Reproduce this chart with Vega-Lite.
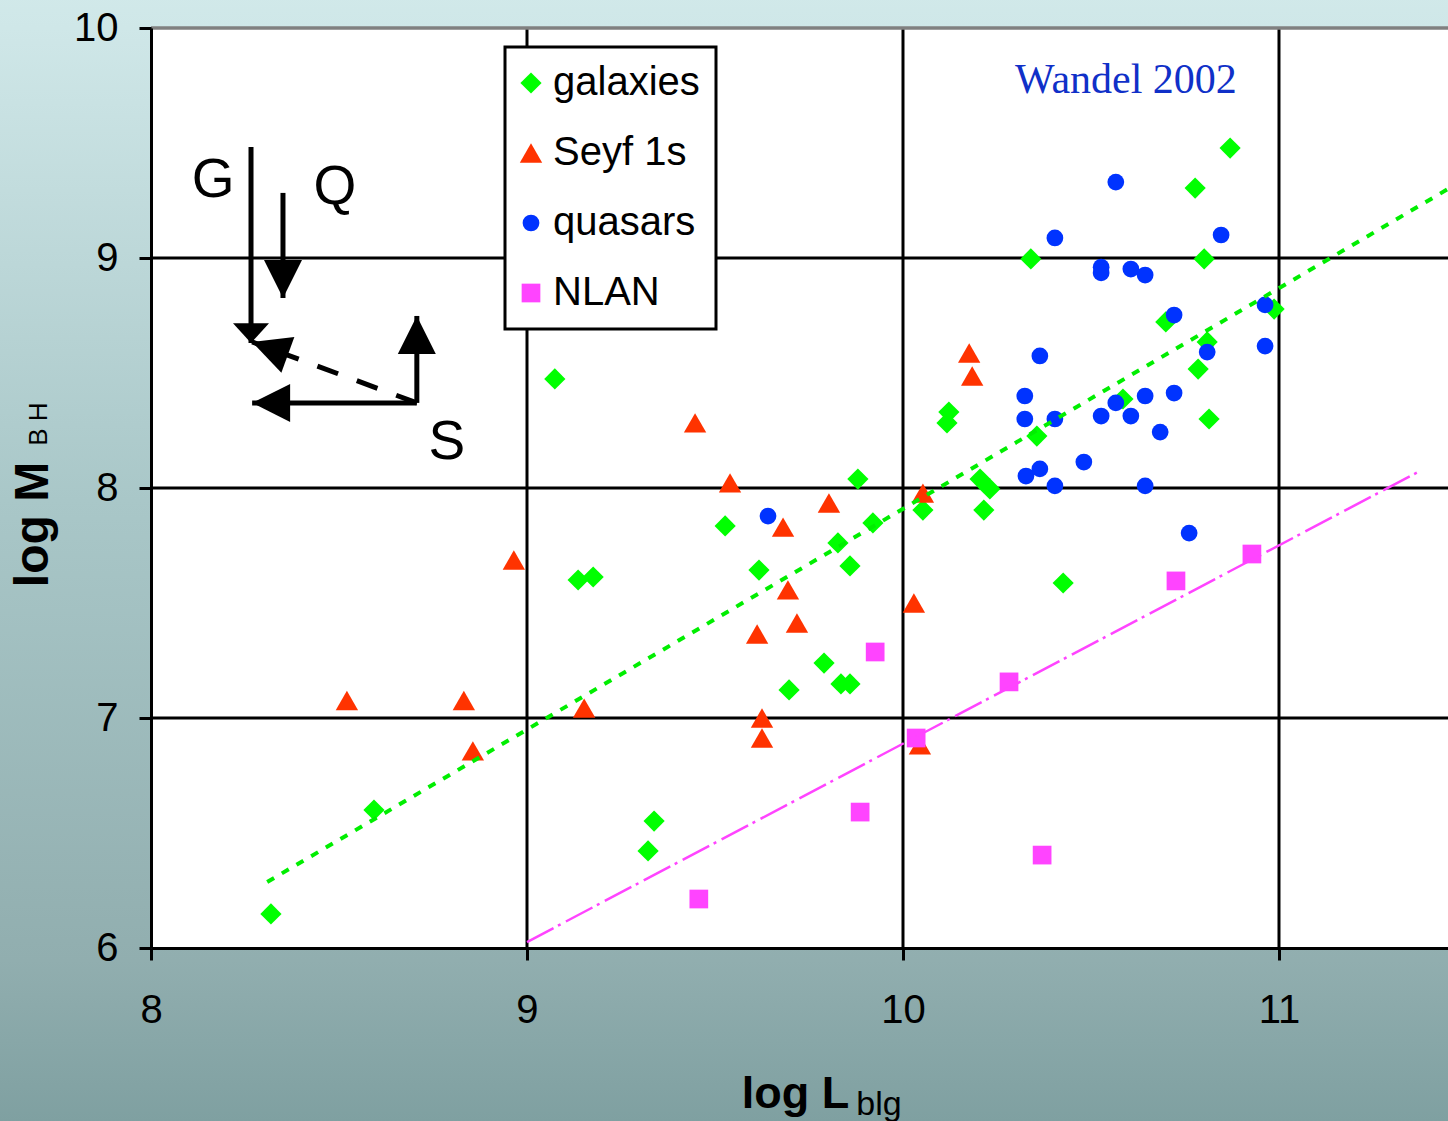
{
  "$schema": "https://vega.github.io/schema/vega-lite/v6.json",
  "width": 1297,
  "height": 920,
  "autosize": {"type": "none"},
  "padding": {"left": 151, "top": 28, "right": 0, "bottom": 173},
  "background": "#a9c7c8",
  "config": {
    "view": {"stroke": null},
    "axisX": {
      "grid": false,
      "domainColor": "black", "domainWidth": 3,
      "tickColor": "black", "tickWidth": 3, "tickSize": 12,
      "labelFont": "Liberation Sans", "labelFontSize": 40, "labelColor": "black", "labelPadding": 30, "labelFlush": false,
      "titleFont": "Liberation Sans", "titleFontSize": 45, "titleFontWeight": "bold", "titleColor": "black",
      "titleX": 644, "titleY": 159, "titleAlign": "center", "titleBaseline": "alphabetic"
    },
    "axisY": {
      "grid": false,
      "domainColor": "black", "domainWidth": 3,
      "tickColor": "black", "tickWidth": 3, "tickSize": 12,
      "labelFont": "Liberation Sans", "labelFontSize": 40, "labelColor": "black", "labelPadding": 21, "labelFlush": false,
      "titleFont": "Liberation Sans", "titleFontSize": 48, "titleFontWeight": "bold", "titleColor": "black",
      "titleAngle": 270, "titleX": -104, "titleY": 496, "titleAlign": "center", "titleBaseline": "alphabetic"
    },
    "legend": {
      "orient": "none", "legendX": 354, "legendY": 19,
      "padding": 16, "strokeColor": "black", "strokeWidth": 3, "fillColor": "white",
      "labelFont": "Liberation Sans", "labelFontSize": 40, "labelColor": "black", "labelOffset": 2,
      "labelLimit": 300, "rowPadding": 30, "symbolStrokeWidth": 0, "symbolOffset": -10
    }
  },
  "datasets": {
    "points": [
      {"type": "galaxies", "logL": 8.319, "logM": 6.148},
      {"type": "galaxies", "logL": 8.593, "logM": 6.600},
      {"type": "galaxies", "logL": 9.074, "logM": 8.474},
      {"type": "galaxies", "logL": 9.136, "logM": 7.600},
      {"type": "galaxies", "logL": 9.176, "logM": 7.613},
      {"type": "galaxies", "logL": 9.322, "logM": 6.422},
      {"type": "galaxies", "logL": 9.338, "logM": 6.552},
      {"type": "galaxies", "logL": 9.527, "logM": 7.835},
      {"type": "galaxies", "logL": 9.617, "logM": 7.643},
      {"type": "galaxies", "logL": 9.697, "logM": 7.122},
      {"type": "galaxies", "logL": 9.790, "logM": 7.239},
      {"type": "galaxies", "logL": 9.827, "logM": 7.761},
      {"type": "galaxies", "logL": 9.835, "logM": 7.148},
      {"type": "galaxies", "logL": 9.859, "logM": 7.148},
      {"type": "galaxies", "logL": 9.859, "logM": 7.661},
      {"type": "galaxies", "logL": 9.880, "logM": 8.039},
      {"type": "galaxies", "logL": 9.920, "logM": 7.848},
      {"type": "galaxies", "logL": 10.053, "logM": 7.904},
      {"type": "galaxies", "logL": 10.117, "logM": 8.283},
      {"type": "galaxies", "logL": 10.122, "logM": 8.330},
      {"type": "galaxies", "logL": 10.205, "logM": 8.039},
      {"type": "galaxies", "logL": 10.231, "logM": 7.996},
      {"type": "galaxies", "logL": 10.215, "logM": 7.904},
      {"type": "galaxies", "logL": 10.340, "logM": 8.996},
      {"type": "galaxies", "logL": 10.356, "logM": 8.226},
      {"type": "galaxies", "logL": 10.426, "logM": 7.587},
      {"type": "galaxies", "logL": 10.585, "logM": 8.387},
      {"type": "galaxies", "logL": 10.699, "logM": 8.722},
      {"type": "galaxies", "logL": 10.809, "logM": 8.635},
      {"type": "galaxies", "logL": 10.785, "logM": 8.517},
      {"type": "galaxies", "logL": 10.814, "logM": 8.300},
      {"type": "galaxies", "logL": 10.777, "logM": 9.304},
      {"type": "galaxies", "logL": 10.870, "logM": 9.478},
      {"type": "galaxies", "logL": 10.801, "logM": 8.996},
      {"type": "galaxies", "logL": 10.987, "logM": 8.778},
      {"type": "Seyf 1s", "logL": 8.521, "logM": 7.076},
      {"type": "Seyf 1s", "logL": 8.832, "logM": 7.076},
      {"type": "Seyf 1s", "logL": 8.856, "logM": 6.857},
      {"type": "Seyf 1s", "logL": 8.965, "logM": 7.687},
      {"type": "Seyf 1s", "logL": 9.152, "logM": 7.043},
      {"type": "Seyf 1s", "logL": 9.447, "logM": 8.283},
      {"type": "Seyf 1s", "logL": 9.540, "logM": 8.022},
      {"type": "Seyf 1s", "logL": 9.612, "logM": 7.365},
      {"type": "Seyf 1s", "logL": 9.681, "logM": 7.830},
      {"type": "Seyf 1s", "logL": 9.694, "logM": 7.557},
      {"type": "Seyf 1s", "logL": 9.718, "logM": 7.413},
      {"type": "Seyf 1s", "logL": 9.625, "logM": 7.000},
      {"type": "Seyf 1s", "logL": 9.625, "logM": 6.913},
      {"type": "Seyf 1s", "logL": 9.803, "logM": 7.935},
      {"type": "Seyf 1s", "logL": 10.029, "logM": 7.500},
      {"type": "Seyf 1s", "logL": 10.053, "logM": 7.978},
      {"type": "Seyf 1s", "logL": 10.045, "logM": 6.883},
      {"type": "Seyf 1s", "logL": 10.176, "logM": 8.587},
      {"type": "Seyf 1s", "logL": 10.184, "logM": 8.487},
      {"type": "quasars", "logL": 9.641, "logM": 7.878},
      {"type": "quasars", "logL": 10.566, "logM": 9.330},
      {"type": "quasars", "logL": 10.404, "logM": 9.087},
      {"type": "quasars", "logL": 10.846, "logM": 9.100},
      {"type": "quasars", "logL": 10.527, "logM": 8.960},
      {"type": "quasars", "logL": 10.527, "logM": 8.935},
      {"type": "quasars", "logL": 10.606, "logM": 8.952},
      {"type": "quasars", "logL": 10.644, "logM": 8.926},
      {"type": "quasars", "logL": 10.963, "logM": 8.796},
      {"type": "quasars", "logL": 10.721, "logM": 8.752},
      {"type": "quasars", "logL": 10.364, "logM": 8.574},
      {"type": "quasars", "logL": 10.809, "logM": 8.591},
      {"type": "quasars", "logL": 10.963, "logM": 8.617},
      {"type": "quasars", "logL": 10.324, "logM": 8.400},
      {"type": "quasars", "logL": 10.644, "logM": 8.400},
      {"type": "quasars", "logL": 10.721, "logM": 8.413},
      {"type": "quasars", "logL": 10.566, "logM": 8.370},
      {"type": "quasars", "logL": 10.324, "logM": 8.300},
      {"type": "quasars", "logL": 10.404, "logM": 8.300},
      {"type": "quasars", "logL": 10.527, "logM": 8.313},
      {"type": "quasars", "logL": 10.606, "logM": 8.313},
      {"type": "quasars", "logL": 10.684, "logM": 8.243},
      {"type": "quasars", "logL": 10.481, "logM": 8.113},
      {"type": "quasars", "logL": 10.327, "logM": 8.052},
      {"type": "quasars", "logL": 10.364, "logM": 8.083},
      {"type": "quasars", "logL": 10.404, "logM": 8.009},
      {"type": "quasars", "logL": 10.644, "logM": 8.009},
      {"type": "quasars", "logL": 10.761, "logM": 7.804},
      {"type": "NLAN", "logL": 9.457, "logM": 6.213},
      {"type": "NLAN", "logL": 9.886, "logM": 6.591},
      {"type": "NLAN", "logL": 9.926, "logM": 7.287},
      {"type": "NLAN", "logL": 10.035, "logM": 6.913},
      {"type": "NLAN", "logL": 10.282, "logM": 7.157},
      {"type": "NLAN", "logL": 10.370, "logM": 6.404},
      {"type": "NLAN", "logL": 10.726, "logM": 7.596},
      {"type": "NLAN", "logL": 10.928, "logM": 7.713}
    ],
    "fits": [
      {"fit": "galaxies", "logL": 8.309, "logM": 6.287},
      {"fit": "galaxies", "logL": 11.4495, "logM": 9.300},
      {"fit": "NLAN", "logL": 9.0, "logM": 6.026},
      {"fit": "NLAN", "logL": 11.375, "logM": 8.074}
    ],
    "arrows": [
      {"arrow": "G", "x0": 8.266, "y0": 9.483, "x1": 8.266, "y1": 8.630},
      {"arrow": "Q", "x0": 8.351, "y0": 9.283, "x1": 8.351, "y1": 8.826},
      {"arrow": "S-up", "x0": 8.707, "y0": 8.370, "x1": 8.707, "y1": 8.748},
      {"arrow": "S-left", "x0": 8.707, "y0": 8.370, "x1": 8.269, "y1": 8.370},
      {"arrow": "S-dash", "x0": 8.707, "y0": 8.370, "x1": 8.269, "y1": 8.635}
    ],
    "letters": [
      {"text": "G", "x": 8.165, "y": 9.339},
      {"text": "Q", "x": 8.489, "y": 9.309},
      {"text": "S", "x": 8.787, "y": 8.200}
    ]
  },
  "layer": [
    {
      "data": {"values": [{}]},
      "mark": {
        "type": "rect",
        "fill": {
          "gradient": "linear", "x1": 0, "y1": 0, "x2": 0, "y2": 1,
          "stops": [
            {"offset": 0, "color": "#d3ebeb"},
            {"offset": 0.058, "color": "#cfe7e8"},
            {"offset": 0.452, "color": "#a9c7c8"},
            {"offset": 0.837, "color": "#91aeaf"},
            {"offset": 0.972, "color": "#7fa0a1"},
            {"offset": 1, "color": "#7d9e9f"}
          ]
        }
      },
      "encoding": {
        "x": {"datum": 7.5}, "x2": {"datum": 11.7},
        "y": {"datum": 5.1}, "y2": {"datum": 10.3}
      }
    },
    {
      "data": {"values": [{}]},
      "mark": {"type": "rect", "fill": "white"},
      "encoding": {
        "x": {"datum": 8}, "x2": {"datum": 11.4495},
        "y": {"datum": 6}, "y2": {"datum": 10}
      }
    },
    {
      "data": {"values": [{"v": 9}, {"v": 10}, {"v": 11}]},
      "mark": {"type": "rule", "color": "black", "strokeWidth": 3},
      "encoding": {"x": {"field": "v", "type": "quantitative"}}
    },
    {
      "data": {"values": [{"v": 7}, {"v": 8}, {"v": 9}]},
      "mark": {"type": "rule", "color": "black", "strokeWidth": 3},
      "encoding": {"y": {"field": "v", "type": "quantitative"}}
    },
    {
      "data": {"values": [{"v": 10}]},
      "mark": {"type": "rule", "color": "#808080", "strokeWidth": 3.5},
      "encoding": {"y": {"field": "v", "type": "quantitative"}}
    },
    {
      "data": {"name": "points"},
      "mark": {"type": "point", "filled": true, "opacity": 1},
      "encoding": {
        "x": {
          "field": "logL", "type": "quantitative",
          "scale": {"domain": [8, 11.4495], "nice": false, "zero": false},
          "axis": {"values": [8, 9, 10, 11], "format": "d", "title": "log L", "zindex": 1}
        },
        "y": {
          "field": "logM", "type": "quantitative",
          "scale": {"domain": [6, 10], "nice": false, "zero": false},
          "axis": {"values": [6, 7, 8, 9, 10], "format": "d", "title": "log M", "zindex": 1}
        },
        "color": {
          "field": "type", "type": "nominal",
          "scale": {"domain": ["galaxies", "Seyf 1s", "quasars", "NLAN"], "range": ["#00ff00", "#ff3300", "#0033ff", "#ff44ff"]},
          "legend": {"title": null, "zindex": 2}
        },
        "shape": {
          "field": "type", "type": "nominal",
          "scale": {"domain": ["galaxies", "Seyf 1s", "quasars", "NLAN"], "range": ["diamond", "triangle-up", "circle", "square"]},
          "legend": {"title": null, "zindex": 2}
        },
        "size": {
          "field": "type", "type": "nominal",
          "scale": {"type": "ordinal", "domain": ["galaxies", "Seyf 1s", "quasars", "NLAN"], "range": [450, 500, 280, 350]},
          "legend": {"title": null, "zindex": 2}
        }
      }
    },
    {
      "data": {"name": "fits"},
      "transform": [{"filter": "datum.fit === 'galaxies'"}],
      "mark": {"type": "line", "color": "#00ee00", "strokeWidth": 4, "strokeDash": [8, 9]},
      "encoding": {
        "x": {"field": "logL", "type": "quantitative"},
        "y": {"field": "logM", "type": "quantitative"}
      }
    },
    {
      "data": {"name": "fits"},
      "transform": [{"filter": "datum.fit === 'NLAN'"}],
      "mark": {"type": "line", "color": "#ff44ff", "strokeWidth": 2.5, "strokeDash": [30, 5, 3, 6]},
      "encoding": {
        "x": {"field": "logL", "type": "quantitative"},
        "y": {"field": "logM", "type": "quantitative"}
      }
    },
    {
      "data": {"name": "arrows"},
      "transform": [{"filter": "datum.arrow !== 'S-dash'"}],
      "mark": {"type": "rule", "color": "black", "strokeWidth": 5},
      "encoding": {
        "x": {"field": "x0", "type": "quantitative"},
        "y": {"field": "y0", "type": "quantitative"},
        "x2": {"field": "x1"},
        "y2": {"field": "y1"}
      }
    },
    {
      "data": {"name": "arrows"},
      "transform": [{"filter": "datum.arrow === 'S-dash'"}],
      "mark": {"type": "rule", "color": "black", "strokeWidth": 5, "strokeDash": [22, 20]},
      "encoding": {
        "x": {"field": "x0", "type": "quantitative"},
        "y": {"field": "y0", "type": "quantitative"},
        "x2": {"field": "x1"},
        "y2": {"field": "y1"}
      }
    },
    {
      "data": {"name": "arrows"},
      "transform": [{"filter": "datum.arrow === 'G'"}],
      "mark": {"type": "point", "shape": "M0,0L-1,-1.1L1,-1.1Z", "size": 1296, "filled": true, "color": "black", "opacity": 1, "angle": 0},
      "encoding": {
        "x": {"field": "x1", "type": "quantitative"},
        "y": {"field": "y1", "type": "quantitative"}
      }
    },
    {
      "data": {"name": "arrows"},
      "transform": [{"filter": "datum.arrow === 'Q'"}],
      "mark": {"type": "point", "shape": "M0,0L-1,-2L1,-2Z", "size": 1444, "filled": true, "color": "black", "opacity": 1, "angle": 0},
      "encoding": {
        "x": {"field": "x1", "type": "quantitative"},
        "y": {"field": "y1", "type": "quantitative"}
      }
    },
    {
      "data": {"name": "arrows"},
      "transform": [{"filter": "datum.arrow === 'S-up'"}],
      "mark": {"type": "point", "shape": "M0,0L-1,-2L1,-2Z", "size": 1444, "filled": true, "color": "black", "opacity": 1, "angle": 180},
      "encoding": {
        "x": {"field": "x1", "type": "quantitative"},
        "y": {"field": "y1", "type": "quantitative"}
      }
    },
    {
      "data": {"name": "arrows"},
      "transform": [{"filter": "datum.arrow === 'S-left'"}],
      "mark": {"type": "point", "shape": "M0,0L-1,-2L1,-2Z", "size": 1444, "filled": true, "color": "black", "opacity": 1, "angle": 90},
      "encoding": {
        "x": {"field": "x1", "type": "quantitative"},
        "y": {"field": "y1", "type": "quantitative"}
      }
    },
    {
      "data": {"name": "arrows"},
      "transform": [{"filter": "datum.arrow === 'S-dash'"}],
      "mark": {"type": "point", "shape": "M0,0L-1,-2L1,-2Z", "size": 1444, "filled": true, "color": "black", "opacity": 1, "angle": 110},
      "encoding": {
        "x": {"field": "x1", "type": "quantitative"},
        "y": {"field": "y1", "type": "quantitative"}
      }
    },
    {
      "data": {"name": "letters"},
      "mark": {"type": "text", "font": "Liberation Sans", "fontSize": 55, "color": "black", "align": "center", "baseline": "middle"},
      "encoding": {
        "x": {"field": "x", "type": "quantitative"},
        "y": {"field": "y", "type": "quantitative"},
        "text": {"field": "text"}
      }
    },
    {
      "data": {"values": [{"text": "Wandel 2002", "x": 10.593, "y": 9.717}]},
      "mark": {"type": "text", "font": "Liberation Serif", "fontSize": 42, "color": "#1030c8", "align": "center", "baseline": "alphabetic"},
      "encoding": {
        "x": {"field": "x", "type": "quantitative"},
        "y": {"field": "y", "type": "quantitative"},
        "text": {"field": "text"}
      }
    },
    {
      "data": {"values": [{"text": "B H", "x": 7.7234, "y": 8.278}]},
      "mark": {"type": "text", "font": "Liberation Sans", "fontSize": 26, "color": "black", "align": "center", "baseline": "alphabetic", "angle": 270},
      "encoding": {
        "x": {"field": "x", "type": "quantitative"},
        "y": {"field": "y", "type": "quantitative"},
        "text": {"field": "text"}
      }
    },
    {
      "data": {"values": [{"text": "blg", "x": 9.936, "y": 5.274}]},
      "mark": {"type": "text", "font": "Liberation Sans", "fontSize": 34, "color": "black", "align": "center", "baseline": "alphabetic"},
      "encoding": {
        "x": {"field": "x", "type": "quantitative"},
        "y": {"field": "y", "type": "quantitative"},
        "text": {"field": "text"}
      }
    }
  ]
}
